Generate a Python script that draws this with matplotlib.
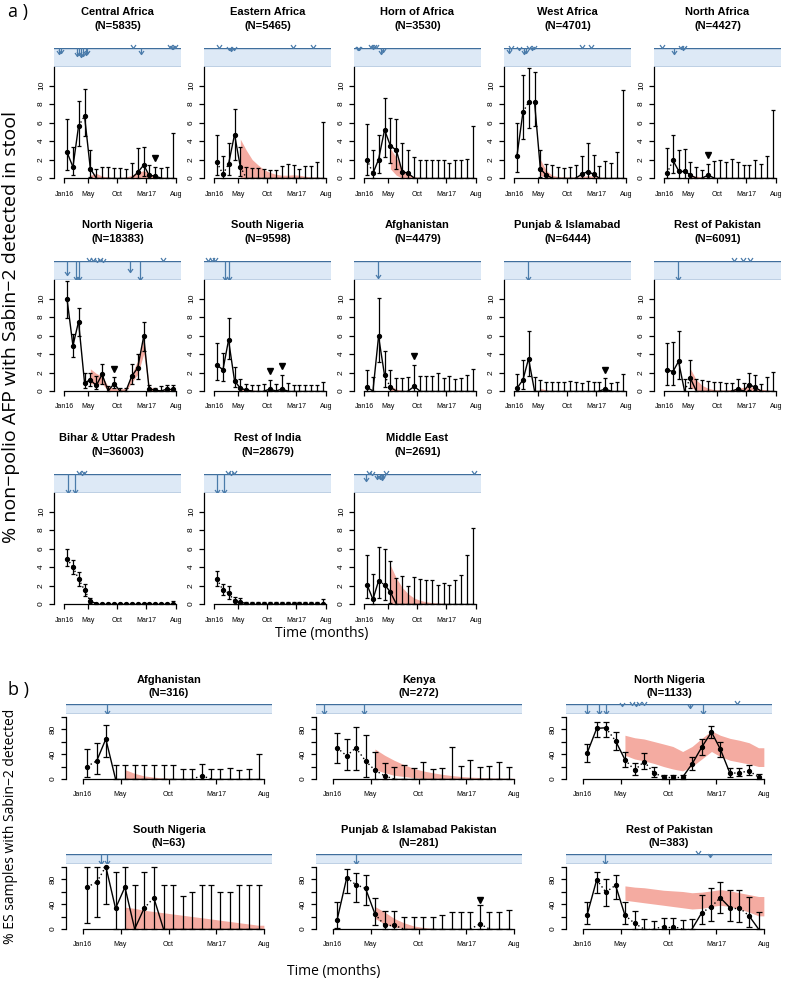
import numpy as np
import pandas as pd
import matplotlib
matplotlib.use("Agg")
import matplotlib.pyplot as plt
from matplotlib.path import Path

plt.rcParams["font.family"] = ["Liberation Sans", "DejaVu Sans"]

# ---------------------------------------------------------------- data
month_starts = pd.date_range("2016-01-01", periods=19, freq="MS")
tick_dates = pd.to_datetime(["2016-01-01", "2016-05-01", "2016-10-01", "2017-03-01", "2017-08-01"])
tick_labels = ["Jan16", "May", "Oct", "Mar17", "Aug"]

# ---- part a : % non-polio AFP with Sabin-2 (0-12)
ca_pt = [2.8, 1.2, 5.6, 6.7, 1.0, 0, 0, 0, 0, 0, 0, 0, 0.6, 1.4, 0.3, 0.2, 0, 0, 0]
ca_lo = [0.9, 0.3, 3.5, 4.5, 0.1, 0, 0, 0, 0, 0, 0, 0, 0, 0.2, 0, 0, 0, 0, 0]
ca_hi = [6.4, 3.4, 8.3, 9.6, 3.0, 1.0, 1.2, 1.2, 1.1, 1.1, 1.0, 1.6, 3.2, 3.4, 1.4, 1.2, 1.1, 1.2, 4.9]
ca_dot = [2]
ca_sh_lo = [0] * 15
ca_sh_hi = [0.3, 0.5, 0.2, 0.1, 0.05, 0.05, 0.1, 0.3, 0.6, 0.8, 0.5, 0.2, 0.1, 0.05, 0.05]
ca_arrow_day = [-26, -17, 64, 75, 85, 99, 110, 119, 355, 398, 545, 555, 565, 574]
ca_arrow_len = [0.3, 0.25, 0.4, 0.35, 0.45, 0.4, 0.35, 0.3, 0.02, 0.3, 0.02, 0.05, 0.05, 0.02]
ca_tri = [(15, 2.2)]

ea_pt = [1.7, 0.4, 1.5, 4.7, 1.2, 0, 0, 0, 0, 0, 0, 0, 0, 0, 0, 0, 0, 0, 0]
ea_lo = [0.3, 0, 0.3, 2.0, 0.2, 0, 0, 0, 0, 0, 0, 0, 0, 0, 0, 0, 0, 0, 0]
ea_hi = [4.7, 2.4, 3.8, 7.5, 3.4, 1.2, 1.1, 1.1, 1.0, 0.9, 0.9, 1.3, 1.5, 1.4, 1.0, 1.3, 1.3, 1.7, 6.1]
ea_dot = [0, 1, 4]
ea_sh_lo = [0] * 15
ea_sh_hi = [4.2, 3.0, 2.0, 1.4, 0.9, 0.6, 0.4, 0.3, 0.3, 0.35, 0.3, 0.2, 0.1, 0.1, 0.05]
ea_arrow_day = [26, 75, 87, 101, 405, 512]
ea_arrow_len = [0.02, 0.1, 0.15, 0.1, 0.02, 0.02]
ea_tri = []

ha_pt = [2.0, 0.5, 2.0, 5.2, 3.5, 3.0, 0.7, 0.5, 0, 0, 0, 0, 0, 0, 0, 0, 0, 0, 0]
ha_lo = [0.3, 0, 0.5, 2.3, 1.6, 1.0, 0, 0, 0, 0, 0, 0, 0, 0, 0, 0, 0, 0, 0]
ha_hi = [5.8, 3.0, 4.7, 8.7, 6.5, 6.4, 3.8, 3.0, 2.3, 2.0, 1.9, 2.0, 2.0, 1.9, 1.6, 1.9, 2.0, 2.1, 5.6]
ha_dot = [0]
ha_sh_lo = [1.0, 0.3, 0, 0, 0, 0, 0, 0, 0, 0, 0, 0, 0, 0, 0]
ha_sh_hi = [3.2, 2.2, 1.0, 0.4, 0.15, 0.05, 0.03, 0.02, 0.02, 0.02, 0.02, 0.02, 0.02, 0.02, 0.02]
ha_arrow_day = [-32, -30, -28, 35, 43, 52, 61, 87, 96]
ha_arrow_len = [0.1, 0.12, 0.1, 0.02, 0.05, 0.02, 0.02, 0.3, 0.2]
ha_tri = []

wa_pt = [2.4, 7.1, 8.2, 8.2, 1.0, 0.3, 0, 0, 0, 0, 0, 0.4, 0.7, 0.4, 0, 0, 0, 0, 0]
wa_lo = [0.6, 4.2, 5.4, 5.6, 0.1, 0, 0, 0, 0, 0, 0, 0, 0, 0, 0, 0, 0, 0, 0]
wa_hi = [5.9, 11.1, 11.9, 11.5, 3.0, 1.5, 1.4, 1.2, 1.1, 1.2, 1.4, 2.4, 3.8, 2.5, 1.3, 1.8, 1.6, 2.8, 9.5]
wa_dot = [1, 2]
wa_sh_lo = [0.3, 0, 0, 0, 0, 0, 0, 0, 0, 0, 0, 0, 0, 0, 0]
wa_sh_hi = [2.0, 0.8, 0.3, 0.15, 0.1, 0.1, 0.1, 0.15, 0.25, 0.2, 0.1, 0.05, 0.05, 0.05, 0.05]
wa_arrow_day = [-26, -17, 26, 52, 61, 78, 92, 104, 353, 395]
wa_arrow_len = [0.25, 0.05, 0.1, 0.3, 0.25, 0.05, 0.12, 0.05, 0.02, 0.02]
wa_tri = []

na_pt = [0.5, 1.9, 0.8, 0.8, 0.3, 0, 0, 0.3, 0, 0, 0, 0, 0, 0, 0, 0, 0, 0, 0]
na_lo = [0, 0.5, 0, 0, 0, 0, 0, 0, 0, 0, 0, 0, 0, 0, 0, 0, 0, 0, 0]
na_hi = [3.2, 4.7, 3.0, 3.1, 1.7, 1.2, 0.9, 1.5, 1.8, 2.0, 1.7, 2.1, 1.7, 1.4, 1.4, 1.9, 1.5, 2.4, 7.4]
na_dot = [0]
na_sh_lo = [0] * 15
na_sh_hi = [0.3, 0.2, 0.1, 0.05, 0.03, 0.02, 0.02, 0.02, 0.02, 0.02, 0.02, 0.02, 0.02, 0.02, 0.02]
na_arrow_day = [-12, 49, 87, 96, 104]
na_arrow_len = [0.02, 0.3, 0.05, 0.1, 0.05]
na_tri = [(7, 2.5)]

nn_pt = [10.0, 4.9, 7.5, 0.9, 1.2, 0.6, 1.8, 0, 0.8, 0, 0, 1.6, 2.5, 5.9, 0.2, 0.1, 0, 0.2, 0.2]
nn_lo = [7.9, 3.7, 6.0, 0.3, 0.5, 0.2, 0.8, 0, 0.3, 0, 0, 0.8, 1.3, 4.3, 0, 0, 0, 0, 0]
nn_hi = [11.9, 6.2, 9.0, 2.0, 1.9, 1.6, 2.9, 0.5, 1.5, 0.3, 0.3, 2.9, 4.0, 7.5, 0.6, 0.3, 0.5, 0.6, 0.6]
nn_dot = []
nn_sh_lo = [0.8, 0.7, 0.8, 0.0, 0, 0, 0, 0.9, 1.8, 4.0, 0, 0, 0, 0, 0]
nn_sh_hi = [2.4, 1.9, 1.6, 0.5, 0.3, 0.2, 0.3, 1.8, 3.3, 5.6, 0.5, 0.2, 0.1, 0.1, 0.1]
nn_arrow_day = [16, 59, 76, 130, 151, 171, 185, 202, 341, 394, 509]
nn_arrow_len = [0.75, 1.0, 1.0, 0.02, 0.02, 0.05, 0.02, 0.05, 0.6, 1.0, 0.02]
nn_tri = [(8, 2.4)]

sn_pt = [2.8, 2.3, 5.5, 1.1, 0.3, 0.1, 0, 0, 0, 0.2, 0, 0.2, 0, 0, 0, 0, 0, 0, 0]
sn_lo = [1.2, 1.1, 3.5, 0.4, 0, 0, 0, 0, 0, 0, 0, 0, 0, 0, 0, 0, 0, 0, 0]
sn_hi = [5.2, 4.1, 7.9, 2.6, 1.3, 0.8, 0.6, 0.6, 0.8, 1.2, 0.8, 1.7, 0.9, 0.6, 0.6, 0.6, 0.6, 0.6, 1.0]
sn_dot = []
sn_sh_lo = [0] * 15
sn_sh_hi = [0.1, 0.25, 0.1, 0.05, 0.02, 0.02, 0.02, 0.02, 0.02, 0.02, 0.02, 0.02, 0.02, 0.02, 0.02]
sn_arrow_day = [-30, -12, 5, 57, 75]
sn_arrow_len = [0.02, 0.02, 0.02, 1.0, 1.0]
sn_tri = [(9, 2.2), (11, 2.7)]

af_pt = [0.4, 0, 5.9, 1.7, 0.4, 0, 0, 0, 0.5, 0, 0, 0, 0, 0, 0, 0, 0, 0, 0]
af_lo = [0, 0, 3.1, 0.4, 0, 0, 0, 0, 0, 0, 0, 0, 0, 0, 0, 0, 0, 0, 0]
af_hi = [2.3, 1.5, 10.1, 4.3, 2.3, 1.4, 1.4, 1.5, 2.8, 1.6, 1.6, 1.6, 1.9, 1.4, 1.6, 1.3, 1.4, 1.7, 2.4]
af_dot = [3]
af_sh_lo = [0] * 15
af_sh_hi = [0.6, 0.2, 0.05, 0.02, 0.02, 0.02, 0.02, 0.02, 0.02, 0.02, 0.02, 0.02, 0.02, 0.02, 0.02]
af_arrow_day = [73]
af_arrow_len = [0.9]
af_tri = [(8, 3.8)]

pi_pt = [0.3, 1.2, 3.5, 0, 0, 0, 0, 0, 0, 0, 0, 0, 0, 0, 0, 0.2, 0, 0, 0]
pi_lo = [0, 0.2, 1.6, 0, 0, 0, 0, 0, 0, 0, 0, 0, 0, 0, 0, 0, 0, 0, 0]
pi_hi = [1.8, 3.4, 6.5, 1.5, 1.2, 1.0, 1.0, 1.0, 1.0, 1.1, 1.0, 0.9, 1.1, 1.0, 1.0, 1.4, 0.9, 1.0, 1.8]
pi_dot = []
pi_sh_lo = [0] * 15
pi_sh_hi = [0.3, 0.1, 0.03, 0.02, 0.02, 0.02, 0.02, 0.02, 0.02, 0.02, 0.02, 0.02, 0.02, 0.02, 0.02]
pi_arrow_day = [73]
pi_arrow_len = [1.0]
pi_tri = [(15, 2.3)]

rp_pt = [2.3, 2.1, 3.2, 0, 1.4, 0, 0, 0, 0, 0, 0, 0, 0.2, 0, 0.7, 0.4, 0, 0, 0]
rp_lo = [0.7, 0.6, 1.3, 0, 0.3, 0, 0, 0, 0, 0, 0, 0, 0, 0, 0.1, 0.1, 0, 0, 0]
rp_hi = [5.2, 5.3, 6.5, 1.3, 3.4, 1.3, 1.2, 1.1, 1.0, 1.0, 0.9, 0.9, 1.3, 0.9, 2.0, 1.7, 0.8, 1.5, 2.1]
rp_dot = [3]
rp_sh_lo = [0.4, 0.1, 0, 0, 0, 0, 0, 0, 0, 0, 0, 0, 0, 0, 0]
rp_sh_hi = [2.4, 1.2, 0.6, 0.3, 0.15, 0.1, 0.1, 0.15, 0.3, 0.4, 0.45, 0.4, 0.2, 0.1, 0.05]
rp_arrow_day = [73, 362, 405, 443]
rp_arrow_len = [1.0, 0.02, 0.02, 0.02]
rp_tri = []

bu_pt = [4.9, 4.0, 2.7, 1.5, 0.3] + [0.05] * 14
bu_lo = [4.1, 3.2, 2.0, 0.9, 0.1] + [0] * 14
bu_hi = [5.9, 4.8, 3.5, 2.2, 0.6] + [0.15] * 13 + [0.3]
bu_dot = [0, 1, 2, 3]
bu_sh_lo = [0] * 15
bu_sh_hi = [0.02] * 15
bu_arrow_day = [17, 54, 74, 90, 104]
bu_arrow_len = [1.0, 1.0, 0.02, 0.05, 0.02]
bu_tri = []

ri_pt = [2.7, 1.5, 1.2, 0.3, 0.2] + [0.05] * 14
ri_lo = [1.9, 1.0, 0.5, 0, 0] + [0] * 14
ri_hi = [3.6, 2.2, 2.0, 0.8, 0.6] + [0.2] * 13 + [0.5]
ri_dot = [0, 1, 2, 3]
ri_sh_lo = [0] * 15
ri_sh_hi = [0.02] * 15
ri_arrow_day = [14, 49, 70, 87, 104]
ri_arrow_len = [1.0, 1.0, 0.02, 0.05, 0.02]
ri_tri = []

me_pt = [2.1, 0.5, 2.5, 2.1, 1.3, 0, 0, 0, 0, 0, 0, 0, 0, 0, 0, 0, 0, 0, 0]
me_lo = [0.6, 0, 0.7, 0.4, 0.1, 0, 0, 0, 0, 0, 0, 0, 0, 0, 0, 0, 0, 0, 0]
me_hi = [5.3, 3.2, 6.2, 6.0, 4.6, 2.8, 3.0, 1.9, 2.9, 2.7, 2.6, 2.6, 2.1, 2.3, 2.1, 2.6, 3.1, 5.3, 8.2]
me_dot = [2]
me_sh_lo = [0] * 15
me_sh_hi = [4.2, 2.8, 1.8, 1.1, 0.65, 0.4, 0.25, 0.15, 0.1, 0.08, 0.05, 0.05, 0.05, 0.05, 0.05]
me_arrow_day = [9, 26, 40, 64, 82, 92, 99, 113, 570]
me_arrow_len = [0.35, 0.02, 0.05, 0.25, 0.25, 0.3, 0.2, 0.02, 0.02]
me_tri = []

# ---- part b : % ES samples with Sabin-2 (0-100)
afb_pt = [20, 29, 64, 0, 0, 0, 0, 0, 0, 0, 0, 0, 5, 0, 0, 0, 0, 0, 0]
afb_lo = [4, 8, 35, 0, 0, 0, 0, 0, 0, 0, 0, 0, 0, 0, 0, 0, 0, 0, 0]
afb_hi = [48, 58, 86, 23, 23, 23, 23, 23, 23, 23, 16, 16, 24, 16, 16, 17, 15, 16, 40]
afb_dot = [0, 11, 12]
afb_sh_lo = [0] * 15
afb_sh_hi = [15, 9, 5, 3, 1.5, 0.7, 0.2, 0.1, 0.05, 0.05, 0.05, 0.05, 0.05, 0.05, 0.05]
afb_arrow_day = [78]
afb_arrow_len = [1.0]
afb_tri = []

ke_pt = [50, 37, 50, 29, 14, 5, 0, 0, 0, 0, 0, 0, 0, 0, 0, 0, 0, 0, 0]
ke_lo = [26, 15, 15, 4, 0, 0, 0, 0, 0, 0, 0, 0, 0, 0, 0, 0, 0, 0, 0]
ke_hi = [73, 64, 84, 71, 43, 25, 20, 23, 17, 28, 16, 18, 52, 21, 31, 20, 21, 28, 19]
ke_dot = [0, 1, 2, 3, 4, 5]
ke_sh_lo = [15, 10, 6, 4, 2, 1, 0.5, 0.3, 0.2, 0.1, 0, 0, 0, 0, 0]
ke_sh_hi = [48, 38, 30, 23, 17, 13, 10, 7.5, 5.5, 4, 3, 2.3, 1.8, 1.5, 1.2]
ke_arrow_day = [-26, 99]
ke_arrow_len = [1.0, 1.0]
ke_tri = []

nnb_pt = [41, 81, 82, 61, 31, 14, 28, 10, 3, 3, 3, 24, 51, 75, 48, 9, 10, 13, 3]
nnb_lo = [27, 68, 68, 46, 20, 6, 16, 3, 0, 0, 0, 14, 38, 65, 35, 3, 5, 6, 0]
nnb_hi = [56, 91, 92, 76, 44, 25, 42, 20, 7, 7, 7, 36, 64, 85, 60, 18, 18, 22, 8]
nnb_dot = [2, 4, 5, 6, 7, 8, 9, 15, 16, 17]
nnb_sh_lo = [38, 32, 29, 25, 20, 16, 13, 20, 32, 44, 36, 30, 27, 24, 20]
nnb_sh_hi = [70, 66, 64, 60, 56, 52, 44, 52, 65, 77, 70, 65, 62, 58, 50]
nnb_arrow_day = [14, 53, 76, 125, 157, 169, 180, 195, 341, 383, 492]
nnb_arrow_len = [1.0, 1.0, 1.0, 0.15, 0.05, 0.15, 0.05, 0.05, 0.4, 1.0, 0.02]
nnb_tri = []

snb_pt = [67, 75, 100, 33, 67, 0, 33, 50, 0, 0, 0, 0, 0, 0, 0, 0, 0, 0, 0]
snb_lo = [10, 20, 40, 0, 0, 0, 0, 0, 0, 0, 0, 0, 0, 0, 0, 0, 0, 0, 0]
snb_hi = [100, 100, 100, 91, 100, 71, 91, 100, 71, 71, 53, 60, 71, 71, 60, 60, 71, 71, 71]
snb_dot = [0, 1, 6]
snb_sh_lo = [0] * 15
snb_sh_hi = [35, 33, 30, 28, 26, 24, 22, 20, 18, 16, 14, 12, 10, 8, 6]
snb_arrow_day = [59, 78]
snb_arrow_len = [1.0, 1.0]
snb_tri = []

pib_pt = [14, 82, 71, 65, 24, 6, 6, 0, 0, 0, 0, 0, 0, 0, 0, 8, 0, 0, 0]
pib_lo = [1, 57, 44, 39, 7, 0, 0, 0, 0, 0, 0, 0, 0, 0, 0, 0, 0, 0, 0]
pib_hi = [43, 96, 90, 86, 50, 29, 29, 19, 19, 19, 19, 22, 27, 27, 27, 38, 27, 27, 31]
pib_dot = [1, 2, 4, 5, 6, 14, 15]
pib_sh_lo = [17, 8, 3, 1, 0, 0, 0, 0, 0, 0, 0, 0, 0, 0, 0]
pib_sh_hi = [36, 27, 17, 10, 5, 2.5, 1, 0.4, 0.2, 0.1, 0.1, 0.1, 0.1, 0.1, 0.1]
pib_arrow_day = [74]
pib_arrow_len = [1.0]
pib_tri = [(15, 46)]

rpb_pt = [22, 79, 59, 70, 22, 9, 0, 0, 4, 4, 0, 0, 26, 36, 50, 34, 34, 21, 0]
rpb_lo = [8, 57, 37, 48, 8, 0, 0, 0, 0, 0, 0, 0, 8, 13, 26, 13, 12, 4, 0]
rpb_hi = [43, 92, 80, 87, 43, 29, 16, 13, 18, 18, 14, 16, 55, 65, 75, 62, 62, 51, 27]
rpb_dot = [1, 2, 4, 5, 6, 7, 8, 9, 10, 12, 13, 15, 16]
rpb_sh_lo = [46, 44, 42, 40, 38, 36, 34, 32, 33, 36, 38, 36, 32, 27, 21]
rpb_sh_hi = [69, 67, 66, 64, 62, 61, 60, 58, 59, 61, 63, 61, 58, 55, 52]
rpb_arrow_day = [70, 368, 406]
rpb_arrow_len = [1.0, 0.02, 0.3]
rpb_tri = []

SHADE_START = 4

panels_a = [
    ("Central Africa", 5835, ca_pt, ca_lo, ca_hi, ca_dot, ca_sh_lo, ca_sh_hi, ca_arrow_day, ca_arrow_len, ca_tri),
    ("Eastern Africa", 5465, ea_pt, ea_lo, ea_hi, ea_dot, ea_sh_lo, ea_sh_hi, ea_arrow_day, ea_arrow_len, ea_tri),
    ("Horn of Africa", 3530, ha_pt, ha_lo, ha_hi, ha_dot, ha_sh_lo, ha_sh_hi, ha_arrow_day, ha_arrow_len, ha_tri),
    ("West Africa", 4701, wa_pt, wa_lo, wa_hi, wa_dot, wa_sh_lo, wa_sh_hi, wa_arrow_day, wa_arrow_len, wa_tri),
    ("North Africa", 4427, na_pt, na_lo, na_hi, na_dot, na_sh_lo, na_sh_hi, na_arrow_day, na_arrow_len, na_tri),
    ("North Nigeria", 18383, nn_pt, nn_lo, nn_hi, nn_dot, nn_sh_lo, nn_sh_hi, nn_arrow_day, nn_arrow_len, nn_tri),
    ("South Nigeria", 9598, sn_pt, sn_lo, sn_hi, sn_dot, sn_sh_lo, sn_sh_hi, sn_arrow_day, sn_arrow_len, sn_tri),
    ("Afghanistan", 4479, af_pt, af_lo, af_hi, af_dot, af_sh_lo, af_sh_hi, af_arrow_day, af_arrow_len, af_tri),
    ("Punjab & Islamabad", 6444, pi_pt, pi_lo, pi_hi, pi_dot, pi_sh_lo, pi_sh_hi, pi_arrow_day, pi_arrow_len, pi_tri),
    ("Rest of Pakistan", 6091, rp_pt, rp_lo, rp_hi, rp_dot, rp_sh_lo, rp_sh_hi, rp_arrow_day, rp_arrow_len, rp_tri),
    ("Bihar & Uttar Pradesh", 36003, bu_pt, bu_lo, bu_hi, bu_dot, bu_sh_lo, bu_sh_hi, bu_arrow_day, bu_arrow_len, bu_tri),
    ("Rest of India", 28679, ri_pt, ri_lo, ri_hi, ri_dot, ri_sh_lo, ri_sh_hi, ri_arrow_day, ri_arrow_len, ri_tri),
    ("Middle East", 2691, me_pt, me_lo, me_hi, me_dot, me_sh_lo, me_sh_hi, me_arrow_day, me_arrow_len, me_tri),
]
panels_b = [
    ("Afghanistan", 316, afb_pt, afb_lo, afb_hi, afb_dot, afb_sh_lo, afb_sh_hi, afb_arrow_day, afb_arrow_len, afb_tri),
    ("Kenya", 272, ke_pt, ke_lo, ke_hi, ke_dot, ke_sh_lo, ke_sh_hi, ke_arrow_day, ke_arrow_len, ke_tri),
    ("North Nigeria", 1133, nnb_pt, nnb_lo, nnb_hi, nnb_dot, nnb_sh_lo, nnb_sh_hi, nnb_arrow_day, nnb_arrow_len, nnb_tri),
    ("South Nigeria", 63, snb_pt, snb_lo, snb_hi, snb_dot, snb_sh_lo, snb_sh_hi, snb_arrow_day, snb_arrow_len, snb_tri),
    ("Punjab & Islamabad Pakistan", 281, pib_pt, pib_lo, pib_hi, pib_dot, pib_sh_lo, pib_sh_hi, pib_arrow_day, pib_arrow_len, pib_tri),
    ("Rest of Pakistan", 383, rpb_pt, rpb_lo, rpb_hi, rpb_dot, rpb_sh_lo, rpb_sh_hi, rpb_arrow_day, rpb_arrow_len, rpb_tri),
]

# ---------------------------------------------------------------- drawing
W, H = 795, 986
fig = plt.figure(figsize=(W / 100, H / 100), dpi=100)


def px_axes(left, top, width, height):
    return fig.add_axes([left / W, 1 - (top + height) / H, width / W, height / H])


origin = pd.Timestamp("2016-01-01")
xm = np.array([(d + pd.Timedelta(days=14) - origin).days for d in month_starts], float)
xt = np.array([(d - origin).days for d in tick_dates], float)
XLIM = (xt[0] - 53, xt[-1] + 26)

BAND_FILL = "#DDE9F6"
BAND_LINE = "#3F6E9C"
ARROW_C = "#4A7BAA"
SHADE_C = "#F4ABA1"
TITLE_FONT = dict(fontsize=8, fontweight="bold", family=["Liberation Sans", "DejaVu Sans"])
LABEL_FAMILY = ["Open Sans", "DejaVu Sans"]

vhead = Path([(-1, 1.4), (0, 0), (1, 1.4)], [Path.MOVETO, Path.LINETO, Path.LINETO])
ax_ymax = {12: 12, 100: 104}


def draw_panel(spec, left, band_top, band_h, plot_h, width, ytop, yticks, ylabels, cap, title_dy):
    title, n, pt, lo, hi, dot, sh_lo, sh_hi, a_day, a_len, tri = spec
    pt, lo, hi = np.array(pt, float), np.array(lo, float), np.array(hi, float)
    axb = px_axes(left, band_top, width, band_h)
    ax = px_axes(left, band_top + band_h, width, plot_h)

    # band with intervention arrows
    axb.set_xlim(XLIM)
    axb.set_ylim(0, 1)
    axb.axis("off")
    axb.axhspan(0, 1, color=BAND_FILL, lw=0)
    axb.axhline(1, color=BAND_LINE, lw=1.0)
    axb.axhline(0, color=BAND_LINE, lw=1.0)
    for d, L in zip(a_day, a_len):
        axb.plot([d, d], [1, 1 - L], color=ARROW_C, lw=0.9, clip_on=False, solid_capstyle="butt")
        axb.plot([d], [1 - L], marker=vhead, ms=5, mfc="none", mec=ARROW_C, mew=0.9,
                 ls="none", clip_on=False)

    # main
    ax.set_xlim(XLIM)
    ax.set_ylim(0, ax_ymax[ytop])
    xs = np.concatenate([xm[SHADE_START:], [xt[-1]]])
    slo = np.concatenate([sh_lo, [sh_lo[-1]]])
    shi = np.concatenate([sh_hi, [sh_hi[-1]]])
    ax.fill_between(xs, slo, shi, color=SHADE_C, lw=0, zorder=1)
    for i in range(len(pt) - 1):
        ls = (0, (1, 2)) if i in dot else "-"
        ax.plot(xm[i:i + 2], pt[i:i + 2], color="black", lw=1.0, ls=ls, zorder=3)
    ax.errorbar(xm, pt, yerr=[pt - lo, hi - pt], fmt="none", ecolor="black",
                elinewidth=0.9, capsize=cap, capthick=0.9, zorder=4, clip_on=False)
    m = pt > 0
    ax.plot(xm[m], pt[m], "o", color="black", ms=2.8, zorder=5)
    for i, y in tri:
        ax.plot([xm[i]], [y], marker="v", color="black", ms=5, zorder=5)

    for s in ("top", "right"):
        ax.spines[s].set_visible(False)
    ax.spines["left"].set_bounds(0, ytop)
    ax.spines["bottom"].set_bounds(xt[0], xt[-1])
    ax.spines["left"].set_linewidth(0.9)
    ax.spines["bottom"].set_linewidth(0.9)
    ax.set_xticks(xt, tick_labels)
    ax.set_yticks(yticks, ylabels)
    ax.tick_params(axis="x", length=3.5, width=0.9, pad=5.5, labelsize=5)
    ax.tick_params(axis="y", length=3.5, width=0.9, pad=3, labelsize=6, labelrotation=90)
    for lab in ax.get_yticklabels():
        lab.set_va("center")

    cx = (left + width / 2) / W
    fig.text(cx, 1 - (band_top - title_dy[0]) / H, title, ha="center", va="center", **TITLE_FONT)
    fig.text(cx, 1 - (band_top - title_dy[1]) / H, f"(N={n})", ha="center", va="center", **TITLE_FONT)


# part a : 5 columns x 3 rows
for k, spec in enumerate(panels_a):
    r, c = divmod(k, 5)
    draw_panel(spec, left=54 + 150 * c, band_top=48 + 213 * r, band_h=19, plot_h=111, width=127,
               ytop=12, yticks=[0, 2, 4, 6, 8, 10], ylabels=["0", "2", "4", "6", "8", "10"],
               cap=1.5, title_dy=(36, 22))

# part b : 3 columns x 2 rows
for k, spec in enumerate(panels_b):
    r, c = divmod(k, 3)
    draw_panel(spec, left=66 + 250 * c, band_top=704 + 150 * r, band_h=10, plot_h=65, width=206,
               ytop=100, yticks=[0, 20, 40, 60, 80, 100], ylabels=["0", "", "40", "", "80", ""],
               cap=1.9, title_dy=(24, 11))

# labels
fig.text(8 / W, 1 - 12 / H, "a )", fontsize=13, family=LABEL_FAMILY, ha="left", va="center")
fig.text(8 / W, 1 - 690 / H, "b )", fontsize=13, family=LABEL_FAMILY, ha="left", va="center")
fig.text(11 / W, 1 - 327 / H, "% non\u2212polio AFP with Sabin\u22122 detected in stool", rotation=90,
         fontsize=14, family=LABEL_FAMILY, ha="center", va="center")
fig.text(11 / W, 1 - 826 / H, "% ES samples with Sabin\u22122 detected", rotation=90,
         fontsize=10, family=LABEL_FAMILY, ha="center", va="center")
fig.text(322 / W, 1 - 634 / H, "Time (months)", fontsize=10, family=LABEL_FAMILY, ha="center", va="center")
fig.text(334 / W, 1 - 972 / H, "Time (months)", fontsize=10, family=LABEL_FAMILY, ha="center", va="center")

fig.savefig("out.png", dpi=100)
